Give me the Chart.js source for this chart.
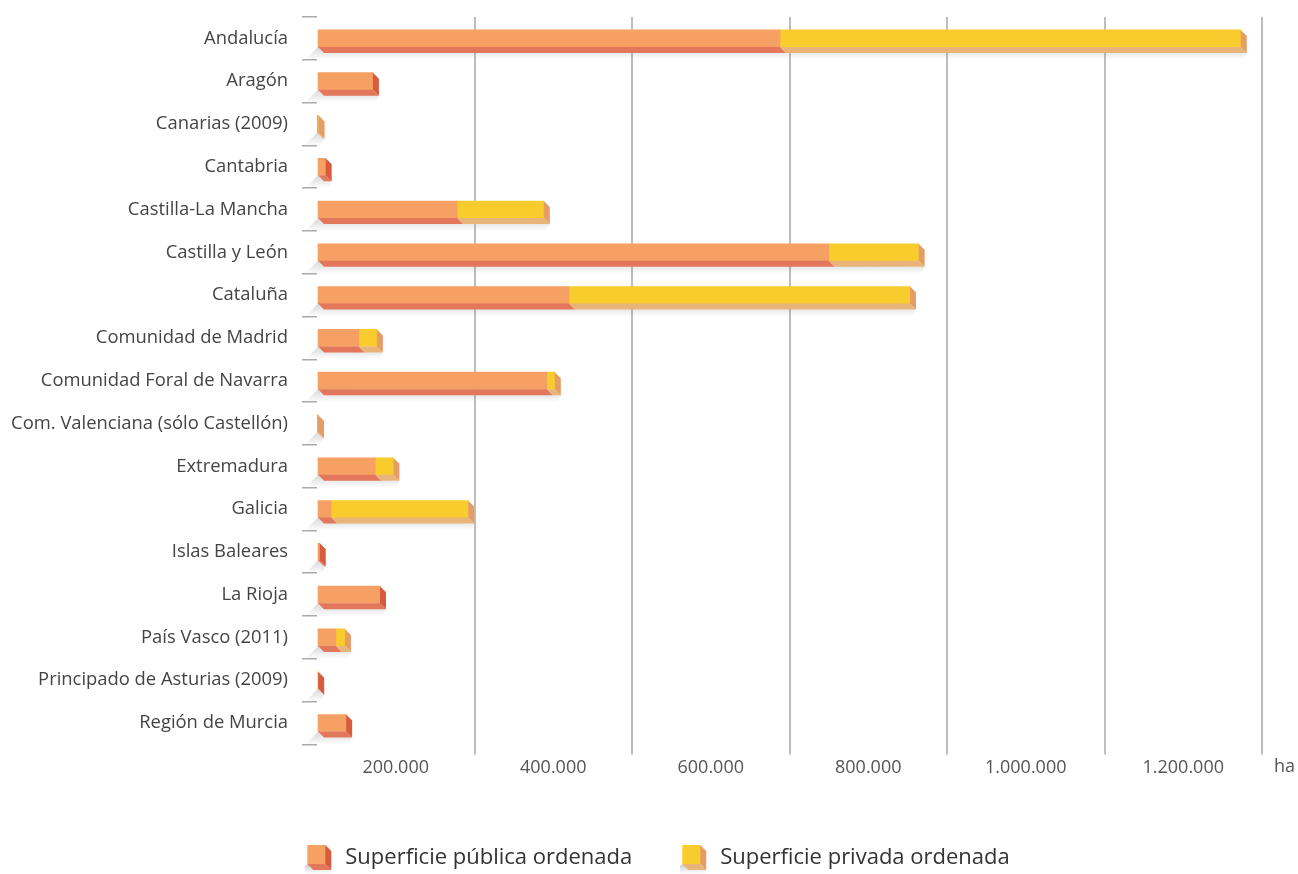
<!DOCTYPE html>
<html>
<head>
<meta charset="utf-8">
<script src="https://cdn.jsdelivr.net/npm/chart.js@4/dist/chart.umd.min.js"></script>
<style>
  body { margin: 0; background: #fff; }
  canvas { display: block; }
</style>
</head>
<body>
<canvas id="grafico" width="1298" height="874"></canvas>
<script>
// datos (ha)
var comunidades = ["Andalucía", "Aragón", "Canarias (2009)", "Cantabria", "Castilla-La Mancha",
  "Castilla y León", "Cataluña", "Comunidad de Madrid", "Comunidad Foral de Navarra",
  "Com. Valenciana (sólo Castellón)", "Extremadura", "Galicia", "Islas Baleares", "La Rioja",
  "País Vasco (2011)", "Principado de Asturias (2009)", "Región de Murcia"];
var publica = [588000, 71000, 500, 11000, 178000, 650000, 320000, 53000, 292000, 500, 74000, 18000, 3500, 80000, 24000, 1500, 37000];
var privada = [585000, 0, 1500, 0, 110000, 114000, 433000, 23000, 10000, 800, 23000, 174000, 0, 0, 11500, 0, 0];
var ticksX = [0, 200000, 400000, 600000, 800000, 1000000, 1200000];
var nombres = ["Superficie pública ordenada", "Superficie privada ordenada"];

var fuente = "'Open Sans', sans-serif";
var frente = ['#F7A063', '#F8CC2D'];
var fondo = ['#E2775C', '#E9B47A'];
var lado = ['#D95B3E', '#E69C65'];
var prof = 6;

function puntos(v) {
  return String(v).replace(/\B(?=(\d{3})+(?!\d))/g, '.');
}

// iconos 3D para la leyenda
function icono(i) {
  var c = document.createElement('canvas');
  c.width = 30; c.height = 32;
  var g = c.getContext('2d');
  var sombra = g.createLinearGradient(0, 22, 0, 32);
  sombra.addColorStop(0, 'rgba(110,110,110,0.35)');
  sombra.addColorStop(1, 'rgba(110,110,110,0)');
  g.fillStyle = sombra;
  g.beginPath();
  g.moveTo(2, 22); g.lineTo(-8, 32); g.lineTo(26, 32); g.lineTo(26, 26); g.closePath();
  g.fill();
  g.fillStyle = fondo[i];
  g.beginPath();
  g.moveTo(2, 22); g.lineTo(20, 22); g.lineTo(26, 28); g.lineTo(8, 28); g.closePath();
  g.fill();
  g.fillStyle = lado[i];
  g.beginPath();
  g.moveTo(20, 3); g.lineTo(26, 9); g.lineTo(26, 28); g.lineTo(20, 22); g.closePath();
  g.fill();
  g.fillStyle = frente[i];
  g.fillRect(2, 3, 18, 19);
  return c;
}
var iconos = [icono(0), icono(1)];

function caja(el) {
  var p = el.getProps(['x', 'y', 'base', 'height'], true);
  return {
    l: Math.min(p.x, p.base), r: Math.max(p.x, p.base),
    t: p.y - p.height / 2, b: p.y + p.height / 2
  };
}

var barras3d = {
  id: 'barras3d',
  afterLayout: function(chart) {
    // la leyenda del original va algo desplazada a la derecha
    chart.legend.left += 9;
    chart.legend.right += 9;
  },
  beforeDatasetsDraw: function(chart) {
    var ctx = chart.ctx;
    var m0 = chart.getDatasetMeta(0), m1 = chart.getDatasetMeta(1);
    ctx.save();
    for (var i = 0; i < comunidades.length; i++) {
      var a = caja(m0.data[i]), b = caja(m1.data[i]);
      var der = Math.max(a.r, b.r) + prof;
      var g = ctx.createLinearGradient(0, a.b, 0, a.b + 13);
      g.addColorStop(0, 'rgba(120,120,120,0.3)');
      g.addColorStop(1, 'rgba(120,120,120,0)');
      ctx.fillStyle = g;
      ctx.beginPath();
      ctx.moveTo(a.l, a.b);
      ctx.lineTo(a.l - 13, a.b + 13);
      ctx.lineTo(der - 4, a.b + 13);
      ctx.lineTo(der, a.b + prof);
      ctx.closePath();
      ctx.fill();
    }
    ctx.restore();
  },
  afterDatasetsDraw: function(chart) {
    var ctx = chart.ctx;
    var series = [publica, privada];
    ctx.save();
    for (var i = 0; i < comunidades.length; i++) {
      var ultimo = -1;
      for (var d = 0; d < 2; d++) {
        if (!series[d][i]) continue;
        ultimo = d;
        var k = caja(chart.getDatasetMeta(d).data[i]);
        ctx.fillStyle = fondo[d];
        ctx.beginPath();
        ctx.moveTo(k.l, k.b); ctx.lineTo(k.r, k.b);
        ctx.lineTo(k.r + prof, k.b + prof); ctx.lineTo(k.l + prof, k.b + prof);
        ctx.closePath(); ctx.fill();
      }
      if (ultimo < 0) continue;
      var e = caja(chart.getDatasetMeta(ultimo).data[i]);
      ctx.fillStyle = lado[ultimo];
      ctx.beginPath();
      ctx.moveTo(e.r, e.t); ctx.lineTo(e.r + prof, e.t + prof);
      ctx.lineTo(e.r + prof, e.b + prof); ctx.lineTo(e.r, e.b);
      ctx.closePath(); ctx.fill();
    }
    ctx.restore();
  },
  afterDraw: function(chart) {
    var ctx = chart.ctx, x = chart.scales.x;
    ctx.save();
    ctx.font = '18px ' + fuente;
    ctx.fillStyle = '#555';
    ctx.textAlign = 'left';
    ctx.textBaseline = 'top';
    ctx.fillText('ha', chart.chartArea.right + 12, x.top + 13);
    ctx.restore();
  }
};

var ctx = document.getElementById('grafico').getContext('2d');
var chart = new Chart(ctx, {
  type: 'bar',
  data: {
    labels: comunidades,
    datasets: [{
      label: nombres[0],
      data: publica,
      backgroundColor: frente[0],
      barThickness: 17
    }, {
      label: nombres[1],
      data: privada,
      backgroundColor: frente[1],
      barThickness: 17
    }]
  },
  plugins: [barras3d],
  options: {
    indexAxis: 'y',
    responsive: false,
    animation: false,
    layout: { padding: { top: 17, right: 0, left: 0, bottom: -5 } },
    scales: {
      x: {
        stacked: true,
        min: 0,
        max: 1200000,
        afterBuildTicks: function(s) { s.ticks = ticksX.map(function(v) { return { value: v }; }); },
        afterFit: function(s) { s.paddingLeft = 0; s.paddingRight = 36; s.height += 16; },
        border: { display: false },
        grid: {
          color: function(c) { return c.tick && c.tick.value === 0 ? 'rgba(0,0,0,0)' : '#bdbdbd'; },
          lineWidth: 2,
          tickLength: 10
        },
        ticks: {
          autoSkip: false,
          maxRotation: 0,
          labelOffset: -78.75,
          padding: 3,
          color: '#555',
          font: { family: fuente, size: 18 },
          callback: function(v) { return v === 0 ? '' : puntos(v); }
        }
      },
      y: {
        stacked: true,
        afterFit: function(s) { s.width = 317; s.paddingTop = 0; s.paddingBottom = 0; },
        border: { display: false },
        grid: {
          drawOnChartArea: false,
          drawTicks: true,
          tickLength: 15,
          color: '#aaaaaa',
          lineWidth: 1.5
        },
        ticks: {
          padding: 14,
          color: '#444',
          font: { family: fuente, size: 18.4 }
        }
      }
    },
    plugins: {
      tooltip: { enabled: false },
      legend: {
        position: 'bottom',
        labels: {
          usePointStyle: true,
          pointStyleWidth: 28,
          padding: 49,
          color: '#333',
          font: { family: fuente, size: 22 },
          generateLabels: function(c) {
            return c.data.datasets.map(function(ds, i) {
              return {
                text: ds.label, pointStyle: iconos[i], fillStyle: frente[i],
                strokeStyle: 'rgba(0,0,0,0)', lineWidth: 0, hidden: false,
                datasetIndex: i, fontColor: '#333'
              };
            });
          }
        }
      }
    }
  }
});
</script>
</body>
</html>
